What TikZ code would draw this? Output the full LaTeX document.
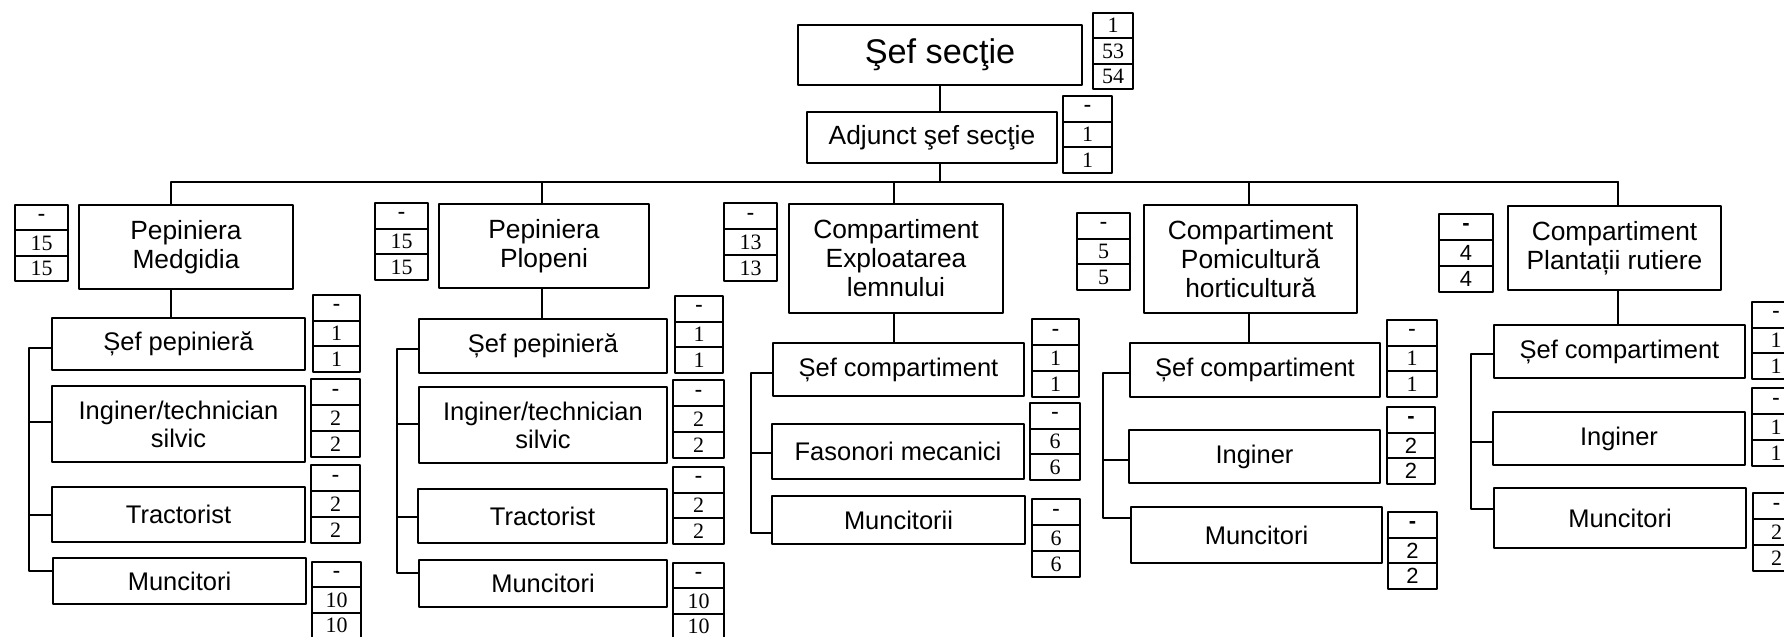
\documentclass[tikz,border=0pt]{standalone}
\usepackage{fontspec}
\setmainfont{Liberation Serif}
\setsansfont{Liberation Sans}

\tikzset{
  unit/.style={draw,rectangle,line width=1.1pt,inner sep=2pt,align=center,
    font=\sffamily\fontsize{14.5}{16}\selectfont},
  dept/.style={line width=1.4pt,font=\sffamily\fontsize{15}{16.5}\selectfont},
  chief/.style={line width=1.5pt,font=\sffamily\fontsize{19.5}{21}\selectfont},
  cell/.style={draw,rectangle,line width=1pt,inner sep=0pt,
    font=\fontsize{12.5}{12.5}\selectfont},
  cellsf/.style={font=\sffamily\fontsize{12.5}{12.5}\selectfont},
  link/.style={line width=1.1pt}
}

% box from its corners: [style]{name}{x1}{y1}{x2}{y2}{text}
\newcommand{\orgbox}[7][]{%
  \node[unit,#1,minimum width={0.02cm*(#5-#3)},minimum height={0.02cm*(#6-#4)}]
    (#2) at ({(#3+#5)/2},{(#4+#6)/2}) {#7};}
% three stacked number cells: [style]{name}{x1}{y1}{x2}{y2}{a}{b}{c}
\newcommand{\numstack}[9][]{%
  \pgfmathsetmacro{\rowh}{(#6-#4)/3}%
  \pgfmathsetmacro{\midx}{(#3+#5)/2}%
  \node[cell,#1,minimum width={0.02cm*(#5-#3)},minimum height={0.02cm*\rowh}] (#2-1) at (\midx,{#4+0.5*\rowh}) {#7};
  \node[cell,#1,minimum width={0.02cm*(#5-#3)},minimum height={0.02cm*\rowh}] (#2-2) at (\midx,{#4+1.5*\rowh}) {#8};
  \node[cell,#1,minimum width={0.02cm*(#5-#3)},minimum height={0.02cm*\rowh}] (#2-3) at (\midx,{#4+2.5*\rowh}) {#9};}
\newcommand{\nil}{\textbf{-}}

\begin{document}
\begin{tikzpicture}[x=0.02cm,y=-0.02cm,line cap=round,line join=round]
	\path[use as bounding box] (0,0) rectangle (1784,636);
	\clip (0,0) rectangle (1784,636);
	% head of the section
	\orgbox[chief]{sef}{798}{25}{1082}{85}{Şef secţie}
	\numstack{nsef}{1093}{13}{1133}{89}{1}{53}{54}
	\orgbox[dept]{adj}{807}{112}{1057}{163}{Adjunct şef secţie}
	\numstack{nadj}{1063}{96}{1112}{173}{\nil}{1}{1}
	% departments
	\orgbox[dept]{medg}{79}{205}{293}{289}{Pepiniera\\Medgidia}
	\numstack{nmedg}{15}{205}{68}{281}{\nil}{15}{15}
	\orgbox[dept]{plop}{439}{204}{649}{288}{Pepiniera\\Plopeni}
	\numstack{nplop}{375}{203}{428}{280}{\nil}{15}{15}
	\orgbox[dept]{expl}{789}{204}{1003}{313}{Compartiment\\Exploatarea\\lemnului}
	\numstack{nexpl}{724}{203}{777}{281}{\nil}{13}{13}
	\orgbox[dept]{pom}{1144}{205}{1357}{313}{Compartiment\\Pomicultură\\horticultură}
	\numstack{npom}{1077}{213}{1130}{290}{\nil}{5}{5}
	\orgbox[dept]{plant}{1508}{206}{1721}{290}{Compartiment\\Plantații rutiere}
	\numstack[cellsf]{nplant}{1439}{214}{1493}{292}{\nil}{4}{4}
	% Pepiniera Medgidia
	\orgbox{sp1}{52}{318}{305}{370}{Șef pepinieră}
	\numstack{nsp1}{313}{295}{360}{372}{\nil}{1}{1}
	\orgbox{in1}{52}{386}{305}{462}{Inginer/technician\\silvic}
	\numstack{nin1}{311}{379}{360}{457}{\nil}{2}{2}
	\orgbox{tr1}{52}{487}{305}{542}{Tractorist}
	\numstack{ntr1}{311}{465}{360}{543}{\nil}{2}{2}
	\orgbox{mu1}{53}{558}{306}{604}{Muncitori}
	\numstack{nmu1}{312}{562}{361}{638}{\nil}{10}{10}
	% Pepiniera Plopeni
	\orgbox{sp2}{419}{319}{667}{373}{Șef pepinieră}
	\numstack{nsp2}{675}{296}{723}{373}{\nil}{1}{1}
	\orgbox{in2}{419}{387}{667}{463}{Inginer/technician\\silvic}
	\numstack{nin2}{673}{380}{724}{458}{\nil}{2}{2}
	\orgbox{tr2}{418}{489}{667}{543}{Tractorist}
	\numstack{ntr2}{673}{467}{724}{544}{\nil}{2}{2}
	\orgbox{mu2}{419}{560}{667}{607}{Muncitori}
	\numstack{nmu2}{673}{563}{724}{639}{\nil}{10}{10}
	% Exploatarea lemnului
	\orgbox{sc3}{773}{343}{1024}{396}{Șef compartiment}
	\numstack{nsc3}{1032}{319}{1079}{397}{\nil}{1}{1}
	\orgbox{fa3}{772}{424}{1024}{479}{Fasonori mecanici}
	\numstack{nfa3}{1030}{403}{1080}{480}{\nil}{6}{6}
	\orgbox{mu3}{772}{496}{1025}{544}{Muncitorii}
	\numstack{nmu3}{1032}{499}{1080}{577}{\nil}{6}{6}
	% Pomicultura horticultura
	\orgbox{sc4}{1130}{343}{1380}{397}{Șef compartiment}
	\numstack{nsc4}{1387}{320}{1437}{397}{\nil}{1}{1}
	\orgbox{in4}{1129}{430}{1380}{483}{Inginer}
	\numstack[cellsf]{nin4}{1387}{407}{1435}{484}{\nil}{2}{2}
	\orgbox{mu4}{1131}{507}{1382}{563}{Muncitori}
	\numstack[cellsf]{nmu4}{1388}{512}{1437}{589}{\nil}{2}{2}
	% Plantatii rutiere
	\orgbox{sc5}{1494}{325}{1745}{378}{Șef compartiment}
	\numstack{nsc5}{1752}{302}{1800}{379}{\nil}{1}{1}
	\orgbox{in5}{1493}{412}{1745}{465}{Inginer}
	\numstack{nin5}{1752}{388}{1800}{466}{\nil}{1}{1}
	\orgbox{mu5}{1494}{488}{1746}{548}{Muncitori}
	\numstack{nmu5}{1753}{493}{1800}{571}{\nil}{2}{2}
	% bus and drops
	\coordinate (c1) at (171,182);
	\coordinate (c2) at (542,182);
	\coordinate (c3) at (894,182);
	\coordinate (c4) at (1249,182);
	\coordinate (c5) at (1618,182);
	\draw[link] (sef.south) -- (sef.south |- adj.north);
	\draw[link] (sef.south |- adj.south) -- (sef.south |- c1);
	\draw[link] (c1) -- (c5);
	\draw[link] (c1) -- (c1 |- medg.north);
	\draw[link] (c2) -- (c2 |- plop.north);
	\draw[link] (c3) -- (c3 |- expl.north);
	\draw[link] (c4) -- (c4 |- pom.north);
	\draw[link] (c5) -- (c5 |- plant.north);
	\draw[link] (c1 |- medg.south) -- (c1 |- sp1.north);
	\draw[link] (c2 |- plop.south) -- (c2 |- sp2.north);
	\draw[link] (c3 |- expl.south) -- (c3 |- sc3.north);
	\draw[link] (c4 |- pom.south) -- (c4 |- sc4.north);
	\draw[link] (c5 |- plant.south) -- (c5 |- sc5.north);
	% spines
	\coordinate (s1) at (29,0);
	\coordinate (s2) at (397,0);
	\coordinate (s3) at (751,0);
	\coordinate (s4) at (1103,0);
	\coordinate (s5) at (1471,0);
	\draw[link] (sp1.west |- 0,348) -| (s1 |- 0,571) -- (mu1.west |- 0,571);
	\draw[link] (s1 |- 0,422) -- (in1.west |- 0,422);
	\draw[link] (s1 |- 0,515) -- (tr1.west |- 0,515);
	\draw[link] (sp2.west |- 0,349) -| (s2 |- 0,573) -- (mu2.west |- 0,573);
	\draw[link] (s2 |- 0,424) -- (in2.west |- 0,424);
	\draw[link] (s2 |- 0,517) -- (tr2.west |- 0,517);
	\draw[link] (sc3.west |- 0,373) -| (s3 |- 0,533) -- (mu3.west |- 0,533);
	\draw[link] (s3 |- 0,453) -- (fa3.west |- 0,453);
	\draw[link] (sc4.west |- 0,373) -| (s4 |- 0,518) -- (mu4.west |- 0,518);
	\draw[link] (s4 |- 0,460) -- (in4.west |- 0,460);
	\draw[link] (sc5.west |- 0,354) -| (s5 |- 0,509) -- (mu5.west |- 0,509);
	\draw[link] (s5 |- 0,442) -- (in5.west |- 0,442);
\end{tikzpicture}
\end{document}
